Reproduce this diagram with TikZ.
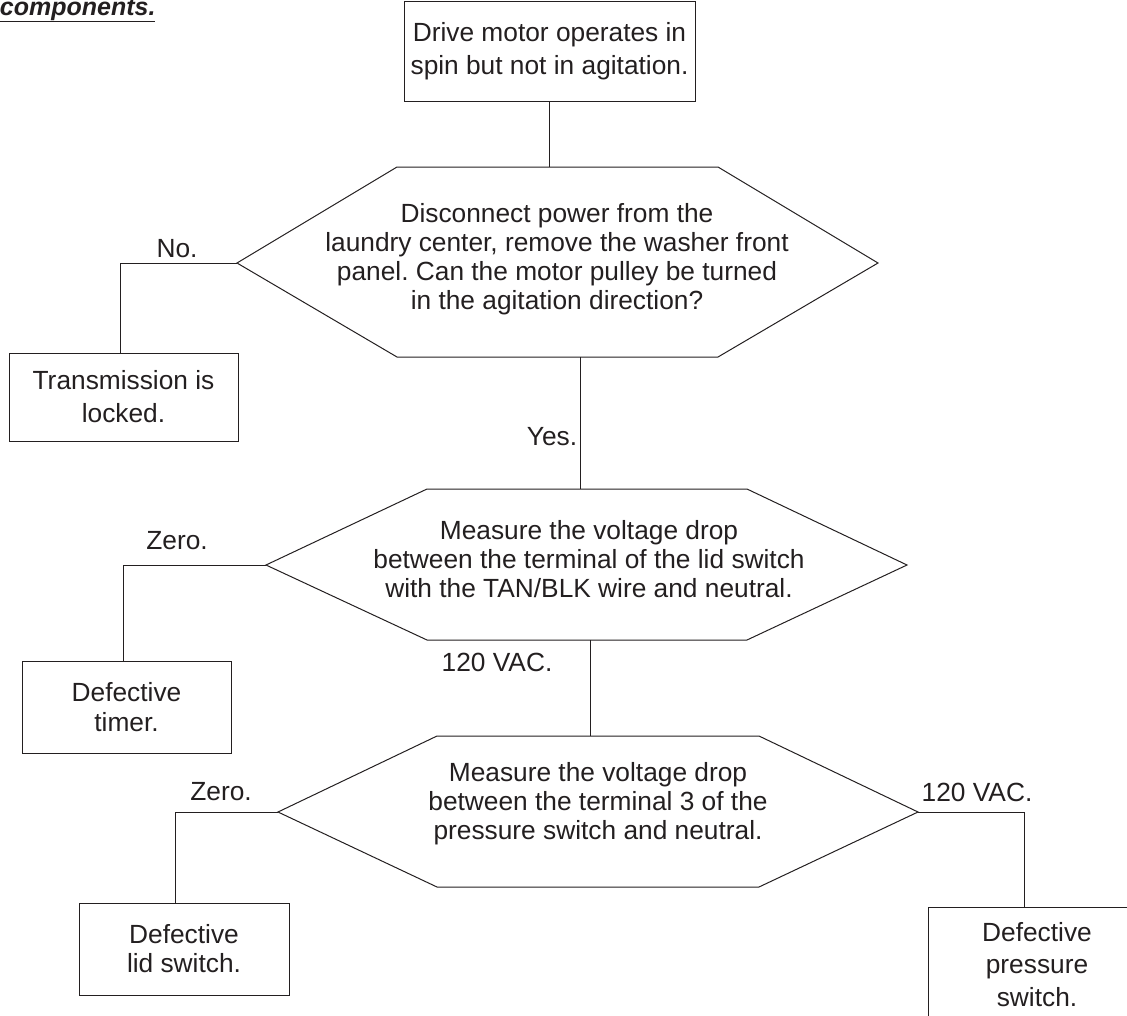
\documentclass[tikz,border=0pt]{standalone}
\usepackage{fontspec}
\setmainfont{Liberation Sans}
\frenchspacing
\definecolor{ink}{HTML}{231F20}
\begin{document}
\begin{tikzpicture}[x=1pt,y=-1pt,line width=1pt,
  every node/.style={text=ink},
  txt/.style={font=\fontsize{26.3}{29}\selectfont, align=center, inner sep=0pt},
  lbl/.style={font=\fontsize{26.3}{29}\selectfont, inner sep=0pt},
  box/.style={draw=ink, rectangle, line width=1pt, align=center, inner sep=0pt},
  hexline/.style={draw=ink, line width=1pt, line join=miter},
  conn/.style={draw=ink, line width=1pt}]
\useasboundingbox (0,0) rectangle (1127,1015);
\clip (0,0) rectangle (1127,1015);

% title fragment
\node[anchor=base east, inner sep=0pt, font=\fontsize{25}{29}\selectfont\bfseries\itshape] (title) at (156,15) {\underline{components.}};

% boxes
\node[box, font=\fontsize{26.3}{33}\selectfont, minimum width=291pt, minimum height=100pt] (top) at (549.5,51) {Drive motor operates in\\spin but not in agitation.};
\node[box, font=\fontsize{26.3}{33}\selectfont, minimum width=229pt, minimum height=88pt] (trans) at (123.5,397) {Transmission is\\locked.};
\node[box, font=\fontsize{26.3}{30}\selectfont, minimum width=209pt, minimum height=92pt] (timer) at (126.5,707) {Defective\\timer.};
\node[box, font=\fontsize{26.3}{29}\selectfont, minimum width=210pt, minimum height=92pt] (lid) at (184,949) {Defective\\lid switch.};
\node[box, minimum width=218pt, minimum height=123pt] (press) at (1037,968.5) {};
\node[txt, font=\fontsize{26.3}{32.5}\selectfont] (presstxt) at (1037,964.5) {Defective\\pressure\\switch.};

% hexagon 1
\coordinate (h1TL) at (397,167); \coordinate (h1TR) at (718,167);
\coordinate (h1R) at (878,263);  \coordinate (h1BR) at (718,357);
\coordinate (h1BL) at (397,357); \coordinate (h1L) at (237,263);
\draw[hexline] (h1TL) -- (h1TR) -- (h1R) -- (h1BR) -- (h1BL) -- (h1L) -- cycle;
\node[txt] (h1) at (557,259.5) {Disconnect power from the\\laundry center, remove the washer front\\panel. Can the motor pulley be turned\\in the agitation direction?};

% hexagon 2
\coordinate (h2TL) at (427,489); \coordinate (h2TR) at (747,489);
\coordinate (h2R) at (907,565);  \coordinate (h2BR) at (747,640);
\coordinate (h2BL) at (427,640); \coordinate (h2L) at (266,565);
\draw[hexline] (h2TL) -- (h2TR) -- (h2R) -- (h2BR) -- (h2BL) -- (h2L) -- cycle;
\node[txt] (h2) at (589,559) {Measure the voltage drop\\between the terminal of the lid switch\\with the TAN/BLK wire and neutral.};

% hexagon 3
\coordinate (h3TL) at (437,736); \coordinate (h3TR) at (759,736);
\coordinate (h3R) at (918,812);  \coordinate (h3BR) at (759,887);
\coordinate (h3BL) at (437,887); \coordinate (h3L) at (278,812);
\draw[hexline] (h3TL) -- (h3TR) -- (h3R) -- (h3BR) -- (h3BL) -- (h3L) -- cycle;
\node[txt] (h3) at (598,804) {Measure the voltage drop\\between the terminal 3 of the\\pressure switch and neutral.};

% connector anchor points
\coordinate (h1top) at (549,167);
\coordinate (h1bot) at (580,357);
\coordinate (h2top) at (580,489);
\coordinate (h2bot) at (590,640);
\coordinate (h3top) at (590,736);

% connectors
\draw[conn] (top.south -| h1top) -- (h1top);
\draw[conn] (h1bot) -- (h2top);
\draw[conn] (h2bot) -- (h3top);
\draw[conn] (h1L) -- (120,263) -- (trans.north -| 120,0);
\draw[conn] (h2L) -- (123,565) -- (timer.north -| 123,0);
\draw[conn] (h3L) -- (175,812) -- (lid.north -| 175,0);
\draw[conn] (h3R) -- (1024,812) -- (press.north -| 1024,0);

% labels
\node[lbl] (lno) at (177,248.5) {No.};
\node[lbl] (lyes) at (552,437) {Yes.};
\node[lbl] (lzero1) at (177,541) {Zero.};
\node[lbl] (lvac1) at (497,662) {120 VAC.};
\node[lbl] (lzero2) at (221,792) {Zero.};
\node[lbl] (lvac2) at (977,792) {120 VAC.};
\end{tikzpicture}
\end{document}
